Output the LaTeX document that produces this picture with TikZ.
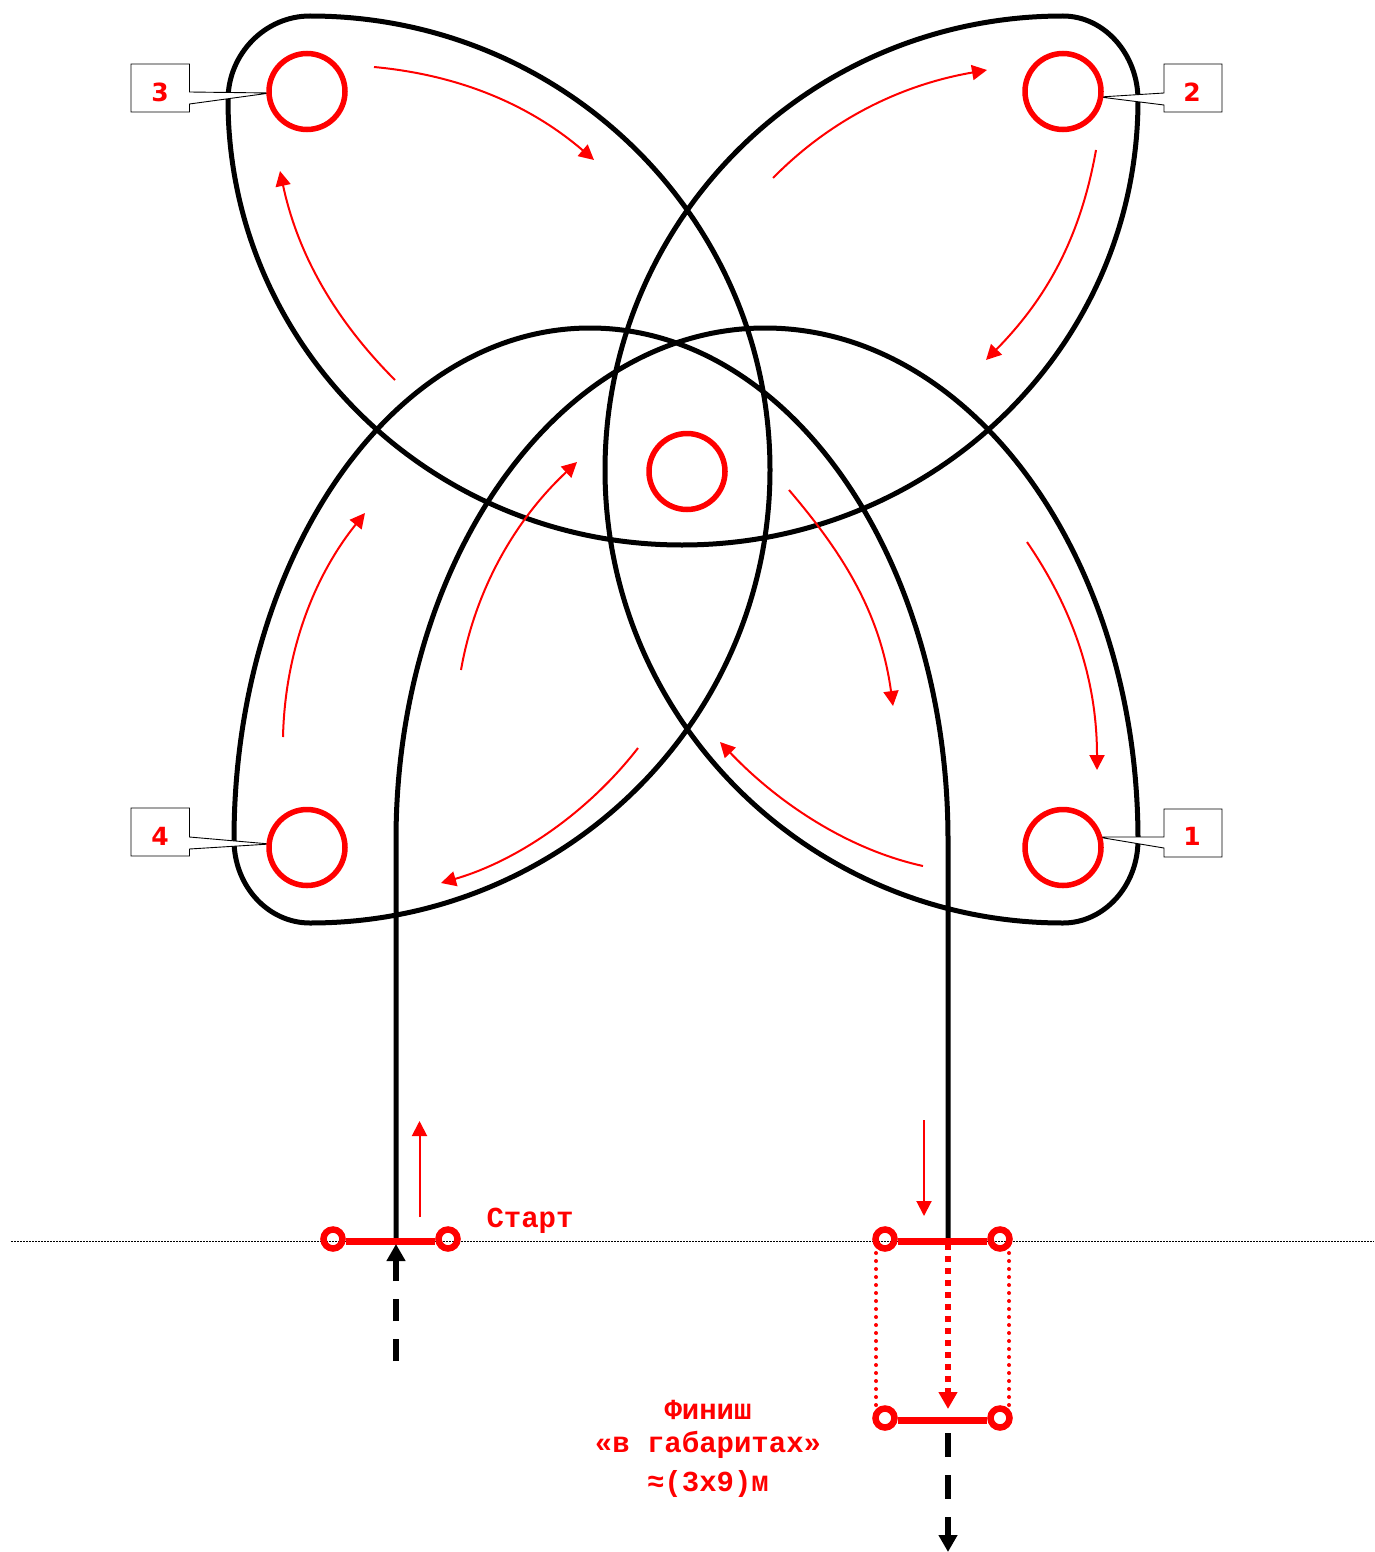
\documentclass[tikz,border=0pt]{standalone}
\usepackage{fontspec}
\setmainfont{Liberation Mono}
\newfontfamily\digfont{DejaVu Sans}
\usetikzlibrary{arrows.meta}
\definecolor{rd}{RGB}{255,0,0}
\tikzset{
  track/.style={draw=black,line width=5pt,line join=round},
  pylon/.style={circle,draw=rd,line width=5.5pt,minimum size=76pt,inner sep=0pt},
  gatepost/.style={circle,draw=rd,line width=6.5pt,minimum size=19pt,inner sep=0pt},
  gatebar/.style={draw=rd,line width=7pt},
  flow/.style={draw=rd,line width=2pt,-{Triangle[length=15pt,width=15pt]}},
  callout/.style={draw=black,line width=0.9pt,fill=white},
  digit/.style={text=rd,font=\digfont\bfseries\fontsize{25}{25}\selectfont,inner sep=0pt},
  lbl/.style={text=rd,font=\bfseries\fontsize{29}{29}\selectfont,inner sep=0pt,anchor=base},
  base line/.style={draw=black,line width=1pt,dash pattern=on 1.5pt off 1.5pt},
  blackdash/.style={draw=black,line width=6pt,-{Triangle[length=17pt,width=18pt]}},
}
\begin{document}
\begin{tikzpicture}[x=1pt,y=-1pt]
\useasboundingbox[fill=white] (0,0) rectangle (1374,1552);

% base line
\coordinate (bl) at (11,1241);
\coordinate (br) at (1374,1241);
\draw[base line] (bl) -- (br);

% track
\coordinate (tstart) at (396,1241);
\coordinate (tend) at (948,1241);
\draw[track] (tstart) -- (396,840)
  .. controls (396,557) and (561,328) .. (765,328)
  .. controls (971,328) and (1138,557) .. (1138,840)
  .. controls (1138,886) and (1104,923) .. (1063,923)
  .. controls (810,923) and (605,720) .. (605,470)
  .. controls (605,219) and (810,16) .. (1063,16)
  .. controls (1104,16) and (1138,54) .. (1138,100)
  .. controls (1138,346) and (934,545) .. (682,545)
  .. controls (431,545) and (228,346) .. (228,100)
  .. controls (228,54) and (265,16) .. (310,16)
  .. controls (564,16) and (770,219) .. (770,470)
  .. controls (770,720) and (564,923) .. (310,923)
  .. controls (268,923) and (234,886) .. (234,840)
  .. controls (234,557) and (393,328) .. (590,328)
  .. controls (788,328) and (948,557) .. (948,840)
  -- (tend);

% callouts
\draw[callout] (131,64) -- (189.5,64) -- (189.5,92) -- (270,93) -- (189.5,104) -- (189.5,112) -- (131,112) -- cycle;
\draw[callout] (1222,64) -- (1164,64) -- (1164,93) -- (1100,97) -- (1164,105) -- (1164,112) -- (1222,112) -- cycle;
\draw[callout] (131,808) -- (189.5,808) -- (189.5,837) -- (270,844) -- (189.5,849) -- (189.5,856) -- (131,856) -- cycle;
\draw[callout] (1222,809) -- (1164,809) -- (1164,837) -- (1098,837) -- (1164,848) -- (1164,857) -- (1222,857) -- cycle;
\node[digit] (d3) at (160,92) {3};
\node[digit] (d2) at (1192,92) {2};
\node[digit] (d4) at (160,836) {4};
\node[digit] (d1) at (1192,836) {1};

% pylons
\node[pylon] (p3) at (307,91.5) {};
\node[pylon] (p2) at (1063,91.5) {};
\node[pylon] (p4) at (307,847.5) {};
\node[pylon] (p1) at (1063,847.5) {};
\node[pylon] (p0) at (687,471.5) {};

% flow arrows
\draw[flow] (374,67) .. controls (460,75) and (530,105) .. (594,160);
\draw[flow] (773,178) .. controls (830,120) and (900,85) .. (987,70);
\draw[flow] (1096,150) .. controls (1080,240) and (1045,300) .. (986,360);
\draw[flow] (1027,542) .. controls (1070,605) and (1097,675) .. (1097,770);
\draw[flow] (789,490) .. controls (840,550) and (880,610) .. (893,706);
\draw[flow] (923,866) .. controls (850,850) and (780,805) .. (720,742);
\draw[flow] (638,748) .. controls (590,810) and (520,860) .. (441,883);
\draw[flow] (283,737) .. controls (285,650) and (315,575) .. (365,513);
\draw[flow] (461,670) .. controls (475,590) and (515,520) .. (577,462);
\draw[flow] (395,380) .. controls (345,330) and (300,265) .. (280,171);
\draw[flow] (419.5,1217) -- (419.5,1121);
\draw[flow] (924,1120) -- (924,1216);

% start gate
\node[gatepost] (s1) at (333,1239) {};
\node[gatepost] (s2) at (448,1239) {};
\draw[gatebar] (s1.east |- 0,1241) -- (s2.west |- 0,1241);
\coordinate (in0) at (396,1361);
\coordinate (in1) at (396,1244);
\draw[blackdash,dash pattern=on 22pt off 18pt] (in0) -- (in1);

% finish gate
\node[gatepost] (f1) at (885,1239) {};
\node[gatepost] (f2) at (1000,1239) {};
\node[gatepost] (f3) at (885,1418) {};
\node[gatepost] (f4) at (1000,1418) {};
\draw[gatebar] (f1.east |- 0,1241) -- (f2.west |- 0,1241);
\draw[gatebar] (f3.east |- 0,1420) -- (f4.west |- 0,1420);
\coordinate (r1) at (948,1244);
\coordinate (r2) at (948,1409);
\draw[draw=rd,line width=6pt,dash pattern=on 6pt off 6pt,-{Triangle[length=17pt,width=18pt]}] (r1) -- (r2);
\coordinate (o0) at (948,1433);
\coordinate (o1) at (948,1552);
\draw[blackdash,dash pattern=on 24pt off 18pt] (o0) -- (o1);
\coordinate (dl1) at (876,1245);
\coordinate (dl2) at (876,1411);
\coordinate (dr1) at (1009,1245);
\coordinate (dr2) at (1009,1411);
\draw[draw=rd,line width=4pt,line cap=round,dash pattern=on 0pt off 8pt] (dl1) -- (dl2);
\draw[draw=rd,line width=4pt,line cap=round,dash pattern=on 0pt off 8pt] (dr1) -- (dr2);

% labels
\node[lbl] (start) at (530,1227) {Старт};
\node[lbl] (fin1) at (708,1419) {Финиш};
\node[lbl] (fin2) at (708,1452) {«в габаритах»};
\node[lbl] (fin3) at (708,1491) {≈(3х9)м};
\end{tikzpicture}
\end{document}
